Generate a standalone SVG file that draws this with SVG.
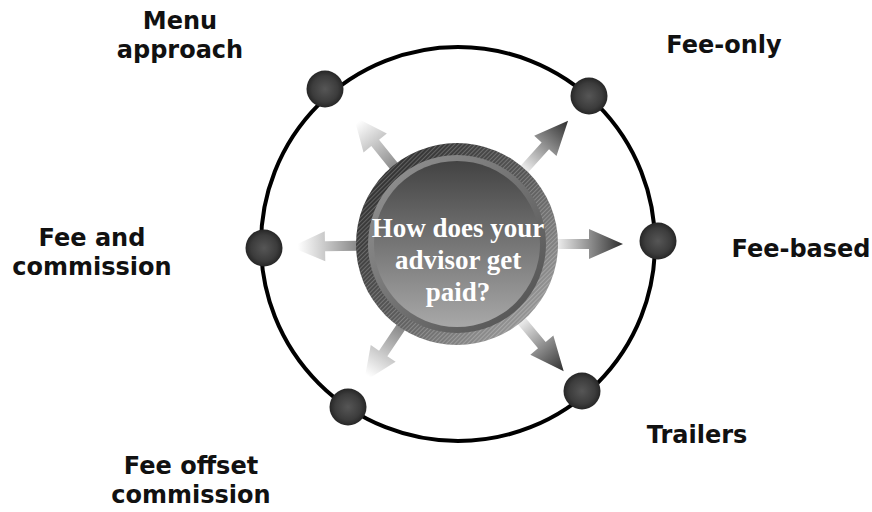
<svg xmlns="http://www.w3.org/2000/svg" width="872" height="512" viewBox="0 0 872 512">
  <defs>
    <style>
      .label { font-family: "DejaVu Sans", Verdana, sans-serif; font-weight: bold; font-size: 24px; fill: #111; text-anchor: middle; }
      .hub-text { font-family: "Liberation Serif", "Times New Roman", serif; font-weight: bold; font-size: 27px; fill: #fff; text-anchor: middle; }
      .ball { fill: url(#ballGrad); }
      .arrow-dark { fill: url(#arrowDark); }
      .arrow-fade { fill: url(#arrowFade); }
    </style>
    <radialGradient id="ballGrad" cx="0.5" cy="0.5" r="0.5">
      <stop offset="0" stop-color="#565656"/>
      <stop offset="0.7" stop-color="#3c3c3c"/>
      <stop offset="1" stop-color="#262626"/>
    </radialGradient>
    <!-- arrows on the right: pale at the hub, dark at the tip -->
    <linearGradient id="arrowDark" x1="0" y1="0" x2="1" y2="0">
      <stop offset="0" stop-color="#f4f4f4"/>
      <stop offset="1" stop-color="#2e2e2e"/>
    </linearGradient>
    <!-- arrows on the left: grey at the hub, fading to white at the tip -->
    <linearGradient id="arrowFade" x1="0" y1="0" x2="1" y2="0">
      <stop offset="0" stop-color="#858585"/>
      <stop offset="0.9" stop-color="#ffffff"/>
    </linearGradient>
    <linearGradient id="rimGrad" x1="0" y1="0" x2="1" y2="1">
      <stop offset="0" stop-color="#242424"/>
      <stop offset="0.5" stop-color="#575757"/>
      <stop offset="1" stop-color="#b0b0b0"/>
    </linearGradient>
    <linearGradient id="bevelGrad" x1="0" y1="0" x2="1" y2="1">
      <stop offset="0" stop-color="#969696"/>
      <stop offset="1" stop-color="#4e4e4e"/>
    </linearGradient>
    <linearGradient id="faceGrad" x1="0" y1="0" x2="0" y2="1">
      <stop offset="0" stop-color="#434343"/>
      <stop offset="1" stop-color="#a8a8a8"/>
    </linearGradient>
    <pattern id="hatch" patternUnits="userSpaceOnUse" width="3" height="3" patternTransform="rotate(45)">
      <rect x="0" y="0" width="1" height="3" fill="#ffffff" fill-opacity="0.22"/>
    </pattern>
    <path id="arrowShape" d="M0,-5 L34,-5 L34,-15 L68,0 L34,15 L34,5 L0,5 Z"/>
  </defs>

  <rect width="872" height="512" fill="#ffffff"/>

  <!-- orbit -->
  <circle cx="458" cy="244" r="197" fill="none" stroke="#000" stroke-width="4"/>

  <!-- connectors: arrows radiating from the hub -->
  <g id="connectors">
    <use href="#arrowShape" class="arrow-fade" transform="translate(457,244) rotate(-129) translate(96,0)"/>
    <use href="#arrowShape" class="arrow-dark" transform="translate(457,244) rotate(-48) translate(98,0)"/>
    <use href="#arrowShape" class="arrow-dark" transform="translate(457,244) rotate(0) translate(98,0)"/>
    <use href="#arrowShape" class="arrow-dark" transform="translate(457,244) rotate(50) translate(98,0)"/>
    <use href="#arrowShape" class="arrow-fade" transform="translate(457,244) rotate(124) translate(98,0)"/>
    <use href="#arrowShape" class="arrow-fade" transform="translate(457,244) rotate(179) translate(98,0)"/>
  </g>

  <!-- hub -->
  <g id="hub">
    <circle cx="457" cy="244" r="101" fill="url(#rimGrad)"/>
    <circle cx="457" cy="244" r="101" fill="url(#hatch)"/>
    <circle cx="457" cy="244" r="89" fill="url(#bevelGrad)"/>
    <circle cx="457" cy="244" r="83" fill="url(#faceGrad)"/>
    <text class="hub-text" x="458" y="237">How does your</text>
    <text class="hub-text" x="458" y="269">advisor get</text>
    <text class="hub-text" x="458" y="301">paid?</text>
  </g>

  <g id="menu-approach">
    <circle class="ball" cx="325" cy="89" r="18.5"/>
    <text class="label" x="180" y="29">Menu</text>
    <text class="label" x="180" y="58">approach</text>
  </g>

  <g id="fee-only">
    <circle class="ball" cx="589" cy="96" r="18.5"/>
    <text class="label" x="724" y="53">Fee-only</text>
  </g>

  <g id="fee-based">
    <circle class="ball" cx="658" cy="241" r="18.5"/>
    <text class="label" x="801" y="257">Fee-based</text>
  </g>

  <g id="trailers">
    <circle class="ball" cx="582" cy="391" r="18.5"/>
    <text class="label" x="697" y="443">Trailers</text>
  </g>

  <g id="fee-offset-commission">
    <circle class="ball" cx="348" cy="407" r="18.5"/>
    <text class="label" x="191" y="474">Fee offset</text>
    <text class="label" x="191" y="503">commission</text>
  </g>

  <g id="fee-and-commission">
    <circle class="ball" cx="264" cy="248" r="18.5"/>
    <text class="label" x="92" y="246">Fee and</text>
    <text class="label" x="92" y="275">commission</text>
  </g>
</svg>
